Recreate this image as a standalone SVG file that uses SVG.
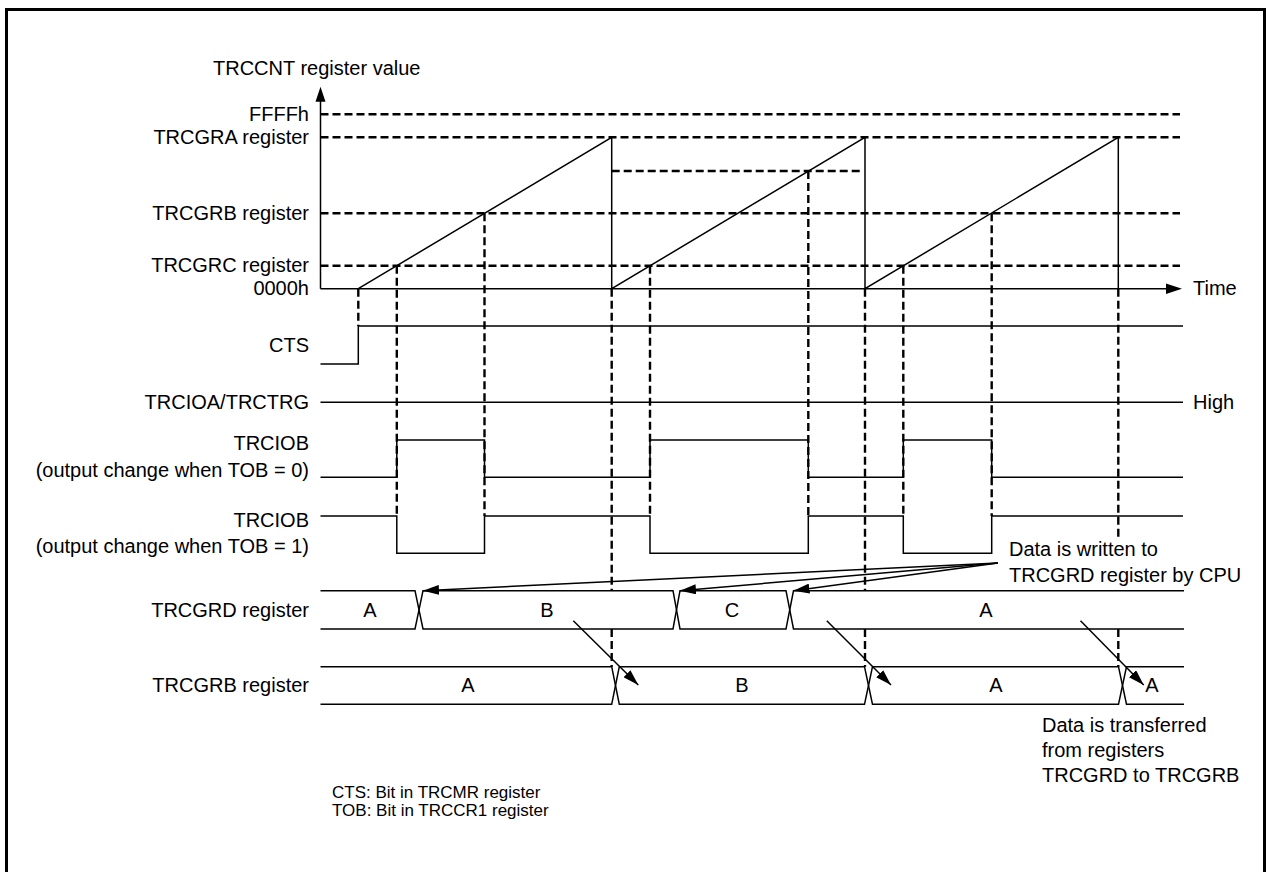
<svg xmlns="http://www.w3.org/2000/svg" width="1266" height="872" viewBox="0 0 1266 872">
<style>
text{font-family:"Liberation Sans",Arial,sans-serif;font-size:20px;fill:#000}
.lbl{text-anchor:end}
.mid{text-anchor:middle}
.note{font-size:17px}
.sol{fill:none;stroke:#000;stroke-width:1.5}
.dash{fill:none;stroke:#000;stroke-width:2.4;stroke-dasharray:8 4}
.arr{fill:none;stroke:#000;stroke-width:1.5;marker-end:url(#ah)}
</style>
<defs>
<marker id="ah" markerUnits="userSpaceOnUse" markerWidth="16" markerHeight="10" refX="16" refY="5" orient="auto">
<path d="M0,0 L16,5 L0,10 Z" fill="#000"/>
</marker>
</defs>
<rect x="6.5" y="9.5" width="1258" height="900" fill="#fff" stroke="#000" stroke-width="3"/>

<g id="axes">
<path class="sol" d="M320.5,288.7 V100"/>
<polygon points="315.5,101.7 320.5,86.7 325.5,101.7" fill="#000"/>
<path class="sol" d="M320.5,288.7 H1168"/>
<polygon points="1166,283.5 1182,288.7 1166,294" fill="#000"/>
<text x="213" y="75">TRCCNT register value</text>
<text x="1193" y="295">Time</text>
</g>

<g id="levels">
<path class="dash" d="M320.5,114.3 H1180 M320.5,137.3 H1180 M320.5,213.3 H1180 M320.5,265.7 H1180 M611.7,171 H860"/>
<text class="lbl" x="309" y="121">FFFFh</text>
<text class="lbl" x="309" y="144">TRCGRA register</text>
<text class="lbl" x="309" y="220">TRCGRB register</text>
<text class="lbl" x="309" y="272">TRCGRC register</text>
<text class="lbl" x="309" y="295">0000h</text>
</g>

<g id="counter">
<path class="sol" d="M358.3,288.7 L611.7,137.3 V288.7 L865,137.3 V288.7 L1118.3,137.3 V288.7"/>
</g>

<g id="timing-guides">
<path class="dash" d="M358.3,288.7 V326 M396.8,265.7 V516 M484.5,213.3 V516 M611.7,288.7 V590.7 M611.7,629 V666.7 M650,265.7 V516 M808.3,171 V516 M865,288.7 V590.7 M865,629 V666.7 M903.3,265.7 V516 M991.7,213.3 V516 M1118.3,288.7 V537 M1118.3,629 V666.7"/>
</g>

<g id="sig-cts">
<path class="sol" d="M320.5,364 H358.3 V326 H1183"/>
<text class="lbl" x="309" y="352">CTS</text>
</g>

<g id="sig-trcioa">
<path class="sol" d="M320.5,402.3 H1183"/>
<text class="lbl" x="309" y="409">TRCIOA/TRCTRG</text>
<text x="1193" y="409">High</text>
</g>

<g id="sig-trciob0">
<path class="sol" d="M320.5,477.3 H396.8 V440 H484.5 V477.3 H650 V440 H808.3 V477.3 H903.3 V440 H991.7 V477.3 H1183"/>
<text class="lbl" x="309" y="450">TRCIOB</text>
<text class="lbl" x="309" y="477">(output change when TOB = 0)</text>
</g>

<g id="sig-trciob1">
<path class="sol" d="M320.5,516 H396.8 V553.3 H484.5 V516 H650 V553.3 H808.3 V516 H903.3 V553.3 H991.7 V516 H1183"/>
<text class="lbl" x="309" y="527">TRCIOB</text>
<text class="lbl" x="309" y="553">(output change when TOB = 1)</text>
</g>

<g id="bus-trcgrd">
<path class="sol" d="M320.5,590.7 H415 L419,609.85 L415,629 H320.5"/>
<path class="sol" d="M419,609.85 L423,590.7 H673 L676.5,609.85 L673,629 H423 Z"/>
<path class="sol" d="M676.5,609.85 L680,590.7 H786 L789.75,609.85 L786,629 H680 Z"/>
<path class="sol" d="M1184,590.7 H793.5 L789.75,609.85 L793.5,629 H1184"/>
<text class="lbl" x="309" y="617">TRCGRD register</text>
<text class="mid" x="370" y="617">A</text>
<text class="mid" x="547" y="617">B</text>
<text class="mid" x="732" y="617">C</text>
<text class="mid" x="986" y="617">A</text>
</g>

<g id="bus-trcgrb">
<path class="sol" d="M320.5,666.7 H611.7 L615.5,685.5 L611.7,704.3 H320.5"/>
<path class="sol" d="M615.5,685.5 L619.3,666.7 H864.5 L868.5,685.5 L864.5,704.3 H619.3 Z"/>
<path class="sol" d="M868.5,685.5 L872.5,666.7 H1118.5 L1122.5,685.5 L1118.5,704.3 H872.5 Z"/>
<path class="sol" d="M1184,666.7 H1126.5 L1122.5,685.5 L1126.5,704.3 H1184"/>
<text class="lbl" x="309" y="692">TRCGRB register</text>
<text class="mid" x="468" y="692">A</text>
<text class="mid" x="742" y="692">B</text>
<text class="mid" x="996" y="692">A</text>
<text class="mid" x="1152" y="692">A</text>
</g>

<g id="connectors">
<path class="arr" d="M998,563 L423,590.7"/>
<path class="arr" d="M998,563 L680,590.7"/>
<path class="arr" d="M998,563 L793.5,590.7"/>
<path class="arr" d="M573.3,620.7 L638.3,685"/>
<path class="arr" d="M826.8,620.7 L891,685"/>
<path class="arr" d="M1080.5,620.7 L1143.7,685"/>
</g>

<g id="note-write">
<text x="1009" y="556">Data is written to</text>
<text x="1009" y="582">TRCGRD register by CPU</text>
</g>

<g id="note-transfer">
<text x="1042" y="732">Data is transferred</text>
<text x="1042" y="757">from registers</text>
<text x="1042" y="782">TRCGRD to TRCGRB</text>
</g>

<g id="legend">
<text class="note" x="332" y="798">CTS: Bit in TRCMR register</text>
<text class="note" x="332" y="816">TOB: Bit in TRCCR1 register</text>
</g>
</svg>
